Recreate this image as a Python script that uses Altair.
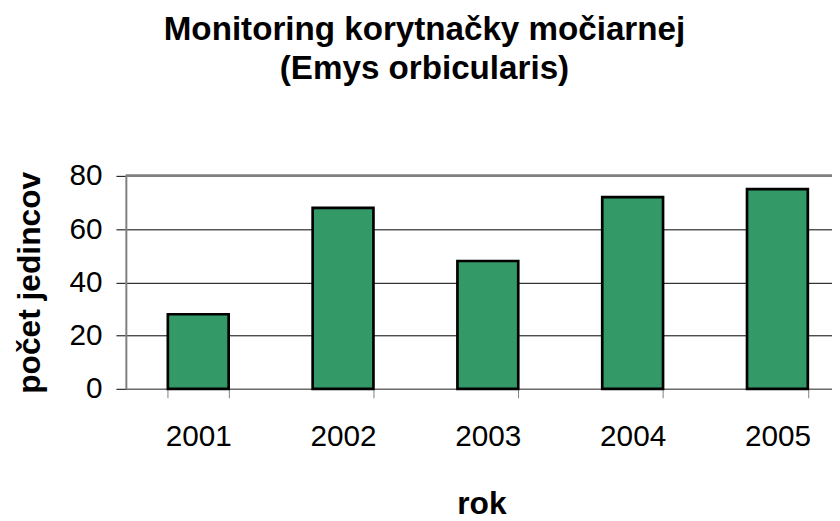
import altair as alt
import pandas as pd

years = ["2001", "2002", "2003", "2004", "2005"]
counts = [28, 68, 48, 72, 75]
y_ticks = [0, 20, 40, 60, 80]
title_lines = ["Monitoring korytnačky močiarnej", "(Emys orbicularis)"]

df = pd.DataFrame({"rok": years, "pocet": counts})

FONT = "Liberation Sans"

x_enc = alt.X(
    "rok:N",
    sort=years,
    scale=alt.Scale(range=[0, 731], paddingInner=0.58, paddingOuter=0.29),
    axis=alt.Axis(
        title="rok",
        titleFont=FONT, titleFontSize=32, titleFontWeight="bold", titleColor="black",
        titleX=359, titleY=126, titleBaseline="alphabetic", titleAlign="center",
        labelFont=FONT, labelFontSize=30, labelColor="black", labelAngle=0,
        labelBaseline="alphabetic", labelPadding=48,
        tickBand="extent", tickSize=9, tickColor="#808080", tickWidth=1,
        domainColor="#808080", domainWidth=1, grid=False,
    ),
)

y_enc = alt.Y(
    "pocet:Q",
    scale=alt.Scale(domain=[0, 80], nice=False),
    axis=alt.Axis(
        values=y_ticks,
        title="počet jedincov",
        titleFont=FONT, titleFontSize=32, titleFontWeight="bold", titleColor="black",
        titleAngle=-90, titleX=-87, titleY=107.5, titleBaseline="alphabetic", titleAlign="center",
        labelFont=FONT, labelFontSize=30, labelColor="black", labelPadding=14,
        tickSize=10, tickColor="black", tickWidth=1,
        domainColor="#808080", domainWidth=2,
        grid=True, gridColor="black", gridWidth=1,
    ),
)

bars = alt.Chart().mark_bar(color="#339966", stroke="#000000", strokeWidth=2.7).encode(
    x=x_enc, y=y_enc
)

top_border = alt.Chart().mark_rule(color="#808080", strokeWidth=2).encode(
    y=alt.datum(80)
)

chart = alt.layer(bars, top_border, data=df).properties(
    width=713,
    height=215,
    padding={"left": 119, "top": 167, "right": 0, "bottom": 131},
    autosize=alt.AutoSizeParams(type="none"),
    title=alt.TitleParams(
        text=title_lines,
        font=FONT, fontSize=33.5, fontWeight="bold", color="black",
        anchor="middle", lineHeight=40, dx=-55, offset=75,
    ),
).configure_view(
    fill="#C0C0C0", stroke="transparent"
).configure(
    background="white"
)

chart.save("out.html", embed_options={"renderer": "svg", "actions": False})
